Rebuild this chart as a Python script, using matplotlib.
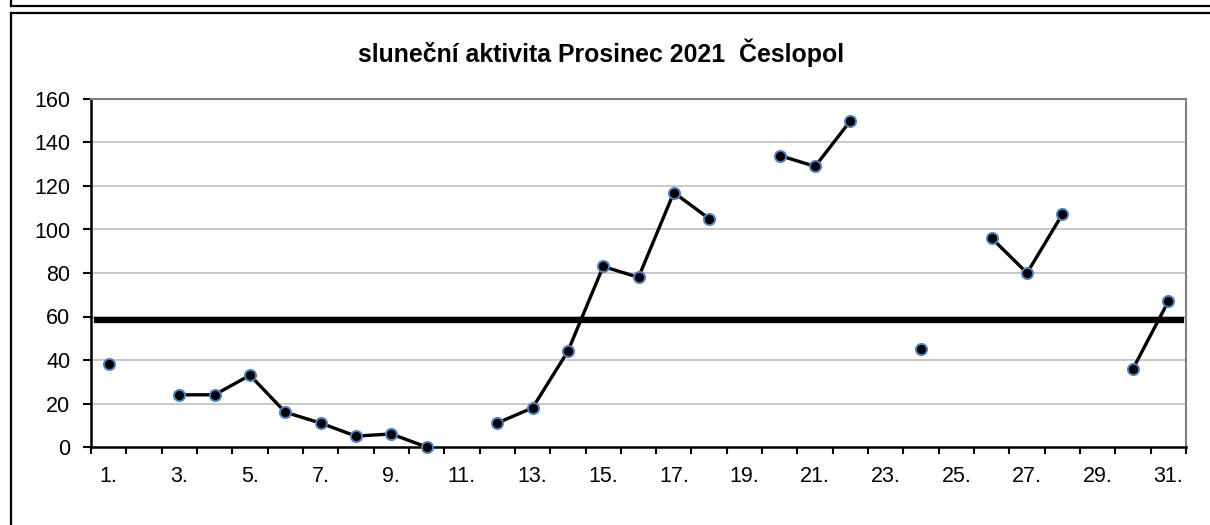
import numpy as np
import matplotlib
matplotlib.use('Agg')
import matplotlib.pyplot as plt
from matplotlib.lines import Line2D

plt.rcParams['font.family'] = ['Liberation Sans', 'DejaVu Sans']

# daily sunspot values, December 2021 (None = no observation)
days = list(range(1, 32))
values = [38, None, 24, 24, 33, 16, 11, 5, 6, 0,
          None, 11, 18, 44, 83, 78, 117, 105, None, 134,
          129, 150, None, 45, None, 96, 80, 107, None, 36,
          67]
title = 'sluneční aktivita Prosinec 2021  Česlopol'
xlabels_days = list(range(1, 32, 2))
yticks = list(range(0, 161, 20))

y = np.array([np.nan if v is None else v for v in values], dtype=float)
mean_val = np.nanmean(y)

fig = plt.figure(figsize=(12.1, 5.25), dpi=100)
ax = fig.add_axes([91/1210, 78/525, 1095/1210, 348/525])

# frame lines of the sheet
W, H = 1210, 525
def fline(xs, ys, lw=1.6):
    fig.add_artist(Line2D([x / W for x in xs], [1 - v / H for v in ys],
                          transform=fig.transFigure, color='black', lw=lw))
fline([11, W], [6, 6])
fline([11, 11], [0, 6])
fline([11, W], [13, 13])
fline([11, 11], [13, H])

# grid
for t in yticks[1:-1]:
    ax.axhline(t, color='#c0c0c0', lw=1.2, zorder=0)

ax.axhline(mean_val, xmin=0.0055, xmax=0.995, color='black', lw=4.5, zorder=2)

ax.plot(days, y, color='black', lw=2.4, marker='o', markersize=8,
        markerfacecolor='black', markeredgecolor='#4f81bd', markeredgewidth=1.4,
        zorder=3, clip_on=False)

ax.set_xlim(0.5, 31.5)
ax.set_ylim(0, 160)

ax.set_xticks(np.arange(0.5, 32, 1))
ax.set_xticklabels([])
ax.set_xticks(xlabels_days, minor=True)
ax.set_xticklabels([f'{d}.' for d in xlabels_days], minor=True)
ax.tick_params(axis='x', which='major', direction='out', length=5, width=1.5, color='black')
ax.tick_params(axis='x', which='minor', length=0, pad=13.5, labelsize=15.5)

ax.set_yticks(yticks)
ax.set_yticklabels([str(t) for t in yticks])
ax.tick_params(axis='y', direction='out', length=6, width=1.5, labelsize=15.5, pad=9)

ax.spines['left'].set_color('black')
ax.spines['left'].set_linewidth(1.8)
ax.spines['bottom'].set_color('black')
ax.spines['bottom'].set_linewidth(1.8)
ax.spines['top'].set_color('#808080')
ax.spines['top'].set_linewidth(1.5)
ax.spines['right'].set_color('#808080')
ax.spines['right'].set_linewidth(1.5)

fig.text(601/W, 1 - 53/H, title, ha='center', va='center',
         fontsize=17.9, fontweight='bold')

fig.savefig('out.png', dpi=100)
